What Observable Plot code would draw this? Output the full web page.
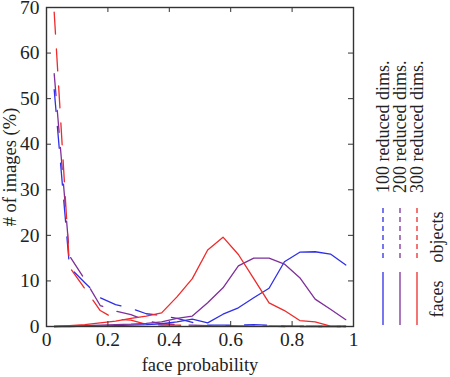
<!DOCTYPE html>
<html>
<head>
<meta charset="utf-8">
<script src="https://cdn.jsdelivr.net/npm/d3@7"></script>
<script src="https://cdn.jsdelivr.net/npm/@observablehq/plot@0.6"></script>
<style>
  body { margin: 0; background: #fff; }
  #chart svg { display: block; }
</style>
</head>
<body>
<div id="chart"></div>
<script>
// Histogram bin centres (face probability)
const binCenters = [0.025, 0.075, 0.125, 0.175, 0.225, 0.275, 0.325, 0.375, 0.425, 0.475,
                    0.525, 0.575, 0.625, 0.675, 0.725, 0.775, 0.825, 0.875, 0.925, 0.975];

// % of face images per bin
const faces100 = [0, 0, 0.1, 0.1, 0.2, 0.3, 0.4, 0.6, 1.0, 1.6, 0.8, 2.7, 4.1, 6.3, 8.4, 14.2, 16.3, 16.4, 15.9, 13.5];
const faces200 = [0, 0.1, 0.2, 0.3, 0.4, 0.5, 0.7, 1.0, 1.8, 2.3, 5.2, 8.5, 13.3, 15.0, 15.0, 13.7, 10.7, 6.0, 3.8, 1.5];
const faces300 = [0, 0.2, 0.4, 0.8, 1.2, 1.8, 2.3, 3.0, 6.5, 10.5, 16.8, 19.6, 15.8, 10.5, 5.2, 3.5, 1.3, 1.0, 0.1, 0.1];

// % of object images per bin
const objects100 = [52, 13, 9.6, 6.3, 4.8, 4.0, 2.8, 2.4, 1.8, 0.9, 0.3, 0.3, 0.3, 0.4, 0.3, 0.1, 0.1, 0, 0, 0];
const objects200 = [55.5, 15.5, 10.3, 4.6, 3.4, 2.6, 1.3, 0.6, 0.4, 0.3, 0.2, 0.2, 0.1, 0.1, 0.1, 0, 0, 0, 0, 0];
const objects300 = [69, 13, 8.3, 3.5, 1.6, 1.4, 0.5, 0.3, 0.3, 0.2, 0.1, 0.1, 0.1, 0.1, 0.1, 0.1, 0.1, 0.1, 0, 0];

const dimsLabels = ["100 reduced dims.", "200 reduced dims.", "300 reduced dims."];
const kindLabels = ["objects", "faces"];
const seriesColors = ["#2f2fe8", "#7e2f9a", "#ee2a2a"];

const xTicks = [0, 0.2, 0.4, 0.6, 0.8, 1];
const yTicks = [0, 10, 20, 30, 40, 50, 60, 70];

// Tidy rows for the line marks
function toRows(values, dims, kind) {
  return values.map((v, i) => ({x: binCenters[i], y: v, dims, kind}));
}
const rows = [
  ...toRows(objects100, dimsLabels[0], "objects"),
  ...toRows(objects200, dimsLabels[1], "objects"),
  ...toRows(objects300, dimsLabels[2], "objects"),
  ...toRows(faces100, dimsLabels[0], "faces"),
  ...toRows(faces200, dimsLabels[1], "faces"),
  ...toRows(faces300, dimsLabels[2], "faces")
];

const W = 450, H = 377;
const margin = {top: 7, right: 97, bottom: 51, left: 46};
const innerW = W - margin.left - margin.right;
const innerH = H - margin.top - margin.bottom;
const tickLen = 5;
const axisColor = "#333";
const font = "'Liberation Serif', 'DejaVu Serif', serif";

const chart = Plot.plot({
  width: W,
  height: H,
  marginTop: margin.top,
  marginRight: margin.right,
  marginBottom: margin.bottom,
  marginLeft: margin.left,
  style: {fontFamily: font, fontSize: "19.5px", color: "#222", background: "#fff", overflow: "visible"},
  x: {domain: [0, 1]},
  y: {domain: [0, 70]},
  color: {domain: dimsLabels, range: seriesColors},
  marks: [
    Plot.line(rows.filter(d => d.kind === "objects"), {
      x: "x", y: "y", z: "dims", stroke: "dims",
      strokeWidth: 1.3, strokeDasharray: "22,15"
    }),
    Plot.line(rows.filter(d => d.kind === "faces"), {
      x: "x", y: "y", z: "dims", stroke: "dims", strokeWidth: 1.3
    }),
    Plot.frame({stroke: axisColor, strokeWidth: 1.4}),
    // inward tick marks on all four sides
    Plot.tickX(xTicks, {x: d => d, insetTop: innerH - tickLen, stroke: axisColor}),
    Plot.tickX(xTicks, {x: d => d, insetBottom: innerH - tickLen, stroke: axisColor}),
    Plot.tickY(yTicks, {y: d => d, insetRight: innerW - tickLen, stroke: axisColor}),
    Plot.tickY(yTicks, {y: d => d, insetLeft: innerW - tickLen, stroke: axisColor}),
    Plot.axisX(xTicks, {tickSize: 0, tickPadding: 6, fontSize: 19.5, tickFormat: d => String(d), label: null}),
    Plot.axisY(yTicks, {tickSize: 0, tickPadding: 7, fontSize: 19.5, tickFormat: d => String(d), label: null}),
    Plot.text(["face probability"], {
      frameAnchor: "bottom", dy: 39, lineAnchor: "middle", textAnchor: "middle",
      fontSize: 18.5, fill: "#222"
    }),
    Plot.text(["# of images (%)"], {
      frameAnchor: "left", dx: -36, rotate: -90, textAnchor: "middle", lineAnchor: "middle",
      fontSize: 18.5, fill: "#222"
    })
  ]
});

document.getElementById("chart").appendChild(chart);

// Legend in the right margin: rotated series names, dashed/solid line keys
const svg = d3.select(chart);
const legend = svg.append("g")
  .attr("font-family", font)
  .attr("font-size", 18)
  .attr("fill", "#222");

const legendX = [383, 400, 417];
dimsLabels.forEach((label, i) => {
  legend.append("text")
    .attr("transform", `translate(${legendX[i]},193) rotate(-90)`)
    .attr("dominant-baseline", "central")
    .attr("text-anchor", "start")
    .text(label);
  legend.append("line")
    .attr("x1", legendX[i]).attr("x2", legendX[i])
    .attr("y1", 208).attr("y2", 262)
    .attr("stroke", seriesColors[i]).attr("stroke-width", 1.3)
    .attr("stroke-dasharray", "5,4");
  legend.append("line")
    .attr("x1", legendX[i]).attr("x2", legendX[i])
    .attr("y1", 272).attr("y2", 325)
    .attr("stroke", seriesColors[i]).attr("stroke-width", 1.3);
});

const kindY = [237, 299];
kindLabels.forEach((label, i) => {
  legend.append("text")
    .attr("transform", `translate(437,${kindY[i]}) rotate(-90)`)
    .attr("dominant-baseline", "central")
    .attr("text-anchor", "middle")
    .text(label);
});
</script>
</body>
</html>
